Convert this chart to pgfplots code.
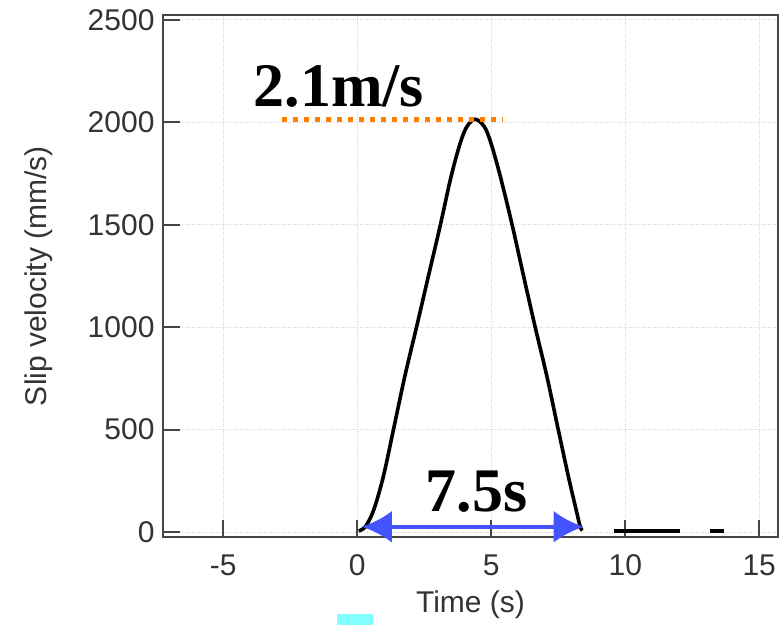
\documentclass[border=0pt]{standalone}
\usepackage{fontspec}
\setmainfont{Liberation Sans}
\newfontfamily\tnr{Liberation Serif}
\usepackage{pgfplots}
\pgfplotsset{compat=1.18}
\usetikzlibrary{arrows.meta}
\definecolor{axgray}{RGB}{70,70,70}
\definecolor{gridc}{RGB}{210,210,226}
\definecolor{orng}{RGB}{255,128,0}
\definecolor{arrblue}{RGB}{68,84,255}
\definecolor{cyanbox}{RGB}{128,255,255}
\begin{document}
\begin{tikzpicture}
\begin{axis}[
  name=ax,
  scale only axis,
  width=615pt, height=522pt,
  xmin=-7.25, xmax=15.7,
  ymin=-24, ymax=2524,
  xtick={-5,0,5,10,15},
  xticklabels={-5,0,5,10,15},
  ytick={0,500,1000,1500,2000,2500},
  yticklabels={0,500,1000,1500,2000,2500},
  tick pos=left,
  tick align=inside,
  major tick length=17pt,
  tick style={line width=2pt, color=axgray},
  axis line style={line width=2.6pt, color=axgray},
  grid=major,
  grid style={dotted, line width=1pt, color=gridc},
  ticklabel style={font=\fontsize{30}{35}\selectfont, color=black!80},
  xticklabel style={yshift=-14pt},
  yticklabel style={xshift=-5pt},
  xlabel={Time (s)},
  ylabel={Slip velocity (mm/s)},
  xlabel style={at={(axis description cs:0.5,0)}, anchor=north, yshift=-50pt},
  ylabel style={at={(axis description cs:-0.2244,0.5)}, anchor=north, inner sep=0pt},
  label style={font=\fontsize{30}{35}\selectfont, color=black!80},
  clip=false,
]
\addplot[black, line width=3.6pt, smooth, tension=0.55] coordinates {
 (0.05,6) (0.30,26) (0.61,107) (0.97,270) (1.36,506) (1.77,758)
 (2.21,1000) (2.65,1247) (3.10,1499) (3.50,1735) (3.84,1898) (4.09,1979)
 (4.40,2015) (4.74,1979) (4.99,1898) (5.34,1735) (5.78,1499) (6.21,1247)
 (6.64,1000) (7.08,758) (7.49,506) (7.88,270) (8.17,107) (8.32,26) (8.40,8)
};
\addplot[black, line width=3.5pt] coordinates {(9.57,5) (12.06,5)};
\addplot[black, line width=3.5pt] coordinates {(13.17,5) (13.67,5)};
\addplot[orng, line width=5pt, dash pattern=on 5pt off 6pt] coordinates {(-2.8,2012) (5.45,2012)};
\addplot[arrblue, line width=4.5pt, {Latex[length=30pt,width=32pt]}-{Latex[length=30pt,width=32pt]}] coordinates {(0.17,26) (8.45,26)};
\node[anchor=base west, inner sep=0pt, font=\tnr\bfseries\fontsize{62}{70}\selectfont] at (axis cs:-3.88,2075) {2.1m/s};
\node[anchor=base west, inner sep=0pt, font=\tnr\bfseries\fontsize{62}{70}\selectfont] at (axis cs:2.54,99) {7.5s};
\end{axis}
\fill[cyanbox] ([shift={(174pt,-77pt)}]ax.south west) rectangle ([shift={(210pt,-90pt)}]ax.south west);
\pgfresetboundingbox
\path ([shift={(-163pt,-88pt)}]ax.south west) rectangle ([shift={(4pt,15pt)}]ax.north east);
\end{tikzpicture}
\end{document}
